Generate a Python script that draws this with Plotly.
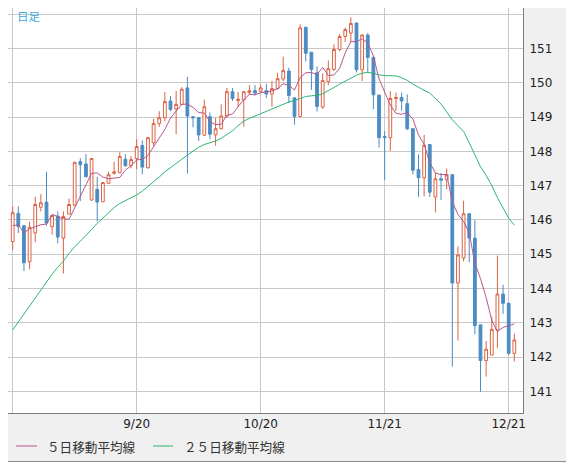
import pandas as pd
import plotly.graph_objects as go

# USD/JPY daily candles, weekdays 2023-08-21 .. 2023-12-22
dates = pd.bdate_range("2023-08-21", "2023-12-22").strftime("%Y-%m-%d").tolist()

opens = [145.37, 146.19, 145.83, 144.78, 145.62, 146.37, 146.52, 145.80, 146.11, 145.47,
         146.17, 146.43, 147.70, 147.63, 146.58, 146.89, 146.53, 147.07, 147.36, 147.38,
         147.77, 147.59, 147.79, 148.17, 147.52, 148.25, 148.81, 148.98, 149.47, 149.24,
         149.37, 149.85, 149.01, 148.98, 148.47, 149.01, 148.48, 148.66, 149.03, 149.74,
         149.48, 149.50, 149.71, 149.77, 149.75, 149.77, 149.67, 149.83, 150.11, 150.34,
         149.56, 149.02, 151.62, 150.89, 150.29, 149.29, 150.04, 150.39, 150.97, 151.35,
         151.45, 151.74, 150.38, 151.39, 150.74, 149.64, 148.43, 148.40, 149.54, 149.57,
         149.39, 148.66, 147.47, 147.23, 148.20, 146.67, 147.20, 147.17, 147.32, 144.16,
         144.89, 146.18, 145.47, 142.94, 141.90, 142.06, 142.79, 143.84, 143.57, 142.11]
highs = [146.40, 146.40, 145.85, 145.95, 146.68, 146.75, 147.40, 146.15, 146.25, 146.25,
         146.62, 147.70, 147.80, 147.92, 147.80, 147.26, 147.10, 147.41, 147.70, 147.97,
         147.92, 147.86, 148.35, 148.32, 148.40, 148.95, 149.17, 149.73, 149.61, 149.76,
         149.87, 150.17, 149.02, 149.00, 149.51, 149.13, 148.98, 149.37, 149.85, 149.85,
         149.73, 149.76, 149.93, 149.93, 149.95, 149.97, 150.05, 150.29, 150.76, 150.44,
         149.56, 151.70, 151.62, 150.89, 150.48, 150.27, 150.65, 151.12, 151.42, 151.61,
         151.91, 151.76, 151.42, 151.45, 150.79, 149.64, 148.59, 149.76, 149.71, 149.71,
         149.66, 148.66, 147.91, 148.48, 148.20, 147.37, 147.37, 147.50, 147.32, 145.23,
         146.56, 146.18, 145.99, 142.94, 142.47, 143.18, 144.96, 144.11, 143.57, 142.68]
lows = [145.13, 145.62, 144.51, 144.56, 145.35, 146.25, 145.83, 145.57, 145.32, 144.44,
        146.17, 146.40, 146.55, 147.24, 146.56, 145.96, 146.52, 147.05, 147.32, 147.37,
        147.55, 147.50, 147.48, 147.33, 147.50, 148.16, 148.71, 148.88, 149.17, 148.50,
        149.35, 147.35, 148.70, 148.30, 148.45, 148.35, 148.16, 148.64, 148.98, 149.47,
        149.30, 148.72, 149.66, 149.63, 149.70, 149.55, 149.30, 149.80, 150.04, 149.41,
        148.78, 149.00, 150.62, 149.79, 149.16, 149.24, 149.93, 150.34, 150.92, 151.19,
        151.19, 150.30, 150.05, 150.30, 149.23, 148.11, 147.16, 148.01, 149.18, 149.18,
        148.62, 147.33, 146.67, 146.69, 146.67, 146.22, 146.58, 146.89, 141.72, 142.48,
        144.79, 144.77, 142.67, 140.99, 141.43, 142.06, 142.26, 143.26, 142.06, 141.87]
closes = [146.21, 145.81, 144.75, 145.79, 146.45, 146.50, 145.91, 146.13, 145.50, 146.10,
          146.45, 147.68, 147.61, 147.26, 147.79, 146.52, 147.09, 147.32, 147.40, 147.85,
          147.58, 147.76, 148.14, 147.54, 148.40, 148.81, 148.98, 149.45, 149.22, 149.37,
          149.81, 149.03, 148.98, 148.48, 149.30, 148.50, 148.66, 149.03, 149.74, 149.54,
          149.52, 149.74, 149.77, 149.70, 149.85, 149.67, 149.83, 150.12, 150.36, 149.63,
          149.02, 151.60, 150.86, 150.39, 149.31, 150.07, 150.41, 150.97, 151.35, 151.55,
          151.73, 150.38, 151.39, 150.74, 149.65, 148.40, 148.40, 149.54, 149.57, 149.47,
          148.66, 147.45, 147.23, 148.18, 146.81, 147.20, 147.16, 147.32, 144.16, 144.98,
          146.18, 145.47, 142.92, 141.90, 142.23, 142.81, 143.84, 143.57, 142.11, 142.50]

# moving averages
ma5 = [145.83, 145.86, 145.62, 145.74, 145.80, 145.86, 145.88, 146.16, 146.10, 146.03,
       146.02, 146.37, 146.67, 147.02, 147.36, 147.37, 147.25, 147.20, 147.22, 147.24,
       147.45, 147.58, 147.75, 147.77, 147.88, 148.13, 148.37, 148.64, 148.97, 149.17,
       149.37, 149.38, 149.28, 149.13, 149.12, 148.86, 148.78, 148.79, 149.05, 149.09,
       149.29, 149.51, 149.66, 149.65, 149.71, 149.74, 149.76, 149.83, 149.97, 149.92,
       149.79, 150.15, 150.29, 150.30, 150.24, 150.45, 150.21, 150.23, 150.42, 150.87,
       151.20, 151.20, 151.28, 151.16, 150.78, 150.11, 149.72, 149.35, 149.11, 149.08,
       149.13, 148.94, 148.48, 148.20, 147.67, 147.37, 147.32, 147.33, 146.53, 146.16,
       145.96, 145.62, 144.74, 144.29, 143.74, 143.07, 142.74, 142.87, 142.91, 142.97]
ma25 = [142.79, 143.02, 143.26, 143.50, 143.74, 143.97, 144.20, 144.42, 144.62, 144.80,
        145.02, 145.22, 145.38, 145.54, 145.72, 145.90, 146.06, 146.22, 146.36, 146.48,
        146.56, 146.64, 146.73, 146.84, 146.97, 147.12, 147.25, 147.40, 147.53, 147.65,
        147.77, 147.89, 148.01, 148.12, 148.20, 148.25, 148.30, 148.38, 148.48, 148.60,
        148.75, 148.88, 148.96, 149.03, 149.10, 149.17, 149.25, 149.32, 149.39, 149.44,
        149.48, 149.55, 149.60, 149.62, 149.63, 149.68, 149.76, 149.86, 149.96, 150.05,
        150.14, 150.22, 150.28, 150.30, 150.28, 150.23, 150.21, 150.20, 150.20, 150.15,
        150.07, 149.96, 149.86, 149.78, 149.70, 149.55, 149.38, 149.15, 148.92, 148.75,
        148.58, 148.25, 147.88, 147.55, 147.30, 147.00, 146.65, 146.35, 146.05, 145.85]

tick_dates = ["2023-08-21", "2023-09-20", "2023-10-20", "2023-11-21", "2023-12-21"]
tick_labels = ["", "9/20", "10/20", "11/21", "12/21"]
legend_names = ["５日移動平均線", "２５日移動平均線"]

RED = "#db6244"
BLUE = "#4b8cc3"
PINK = "#b8578a"
GREEN = "#2cb574"
GRID = "#c8c8c8"
FRAME = "#7c7c7c"

# the page puts the figure 8px in from the window corner, so size it to fit
OFF = 8
W, H = 574 - OFF, 462 - OFF
ML, MR, MT, MB = 0, 51, 0, 49
PW, PH = W - ML - MR, H - MT - MB


# helpers: window pixel -> paper coordinate
def px_x(px):
    return (px - OFF - ML) / PW


def px_y(py):
    return (H - MB - (py - OFF)) / PH


fig = go.Figure()

fig.add_trace(go.Candlestick(
    x=dates, open=opens, high=highs, low=lows, close=closes,
    increasing=dict(line=dict(color=RED, width=1), fillcolor="white"),
    decreasing=dict(line=dict(color=BLUE, width=1), fillcolor=BLUE),
    whiskerwidth=0, hoverinfo="skip", showlegend=False,
))
fig.add_scatter(x=dates, y=ma25, mode="lines", line=dict(color=GREEN, width=1),
                name=legend_names[1], showlegend=False, hoverinfo="skip")
fig.add_scatter(x=dates, y=ma5, mode="lines", line=dict(color=PINK, width=1),
                name=legend_names[0], showlegend=False, hoverinfo="skip")

fig.update_xaxes(
    type="category", range=[-0.83, 90.54],
    tickvals=tick_dates, ticktext=tick_labels, ticks="",
    showgrid=True, gridcolor=GRID, gridwidth=1,
    showline=True, mirror=True, linecolor=FRAME, linewidth=1,
    tickfont=dict(family="DejaVu Sans", size=12, color="#222222"),
    rangeslider=dict(visible=False),
)
fig.update_yaxes(
    side="right", range=[140.37, 152.18], tick0=141, dtick=1, ticks="",
    showgrid=True, gridcolor=GRID, gridwidth=1, zeroline=False,
    showline=True, mirror=True, linecolor=FRAME, linewidth=1,
    tickfont=dict(family="DejaVu Sans", size=12, color="#222222"),
    ticklabelstandoff=3,
)

# legend drawn by hand at the bottom
legend_items = [(16, 37, 45, PINK, legend_names[0]), (153, 173, 182, GREEN, legend_names[1])]
shapes = [dict(type="line", xref="paper", yref="paper",
               x0=px_x(573.5), x1=px_x(573.5), y0=px_y(461.5), y1=px_y(OFF),
               line=dict(color="#8a8a8a", width=1)),
          dict(type="line", xref="paper", yref="paper",
               x0=px_x(OFF), x1=px_x(573.5), y0=px_y(461.5), y1=px_y(461.5),
               line=dict(color="#8a8a8a", width=1))]
annotations = [dict(text="日足", xref="paper", yref="paper", x=px_x(15), y=px_y(16),
                    xanchor="left", yanchor="middle", showarrow=False,
                    font=dict(family="Noto Sans CJK JP", size=11.5, color="#3aa8e0"))]
for x0, x1, xt, color, name in legend_items:
    shapes.append(dict(type="line", xref="paper", yref="paper",
                       x0=px_x(x0), x1=px_x(x1), y0=px_y(446), y1=px_y(446),
                       line=dict(color=color, width=1)))
    annotations.append(dict(text=name, xref="paper", yref="paper", x=px_x(xt), y=px_y(446),
                            xanchor="left", yanchor="middle", showarrow=False,
                            font=dict(family="Noto Sans CJK JP", size=12.6, color="#333333")))

fig.update_layout(
    width=W, height=H,
    margin=dict(l=ML, r=MR, t=MT, b=MB, pad=0),
    paper_bgcolor="#f0f0f0", plot_bgcolor="white",
    showlegend=False,
    shapes=shapes, annotations=annotations,
)

fig.write_html("out.html")
